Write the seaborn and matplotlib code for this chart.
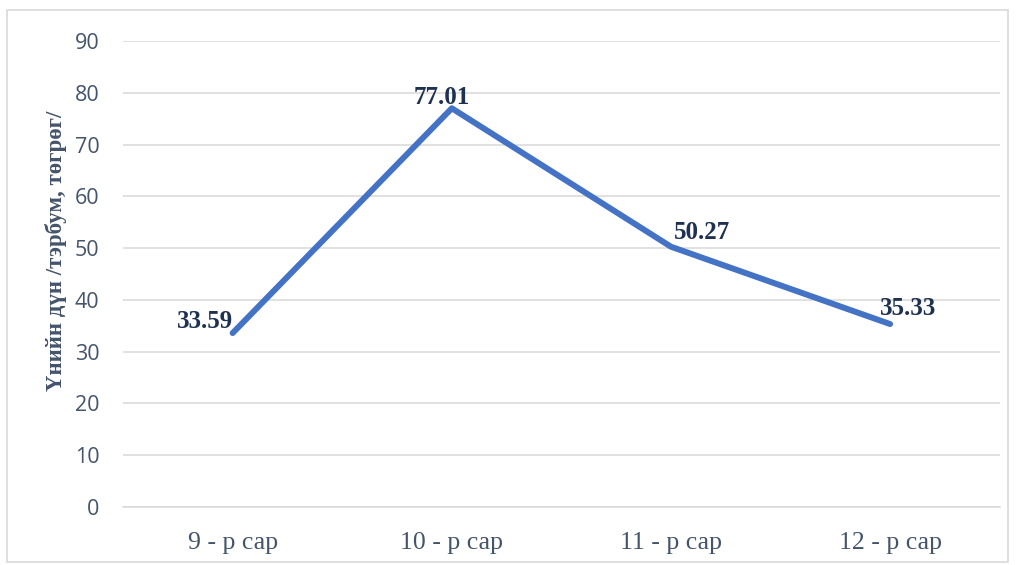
import numpy as np
import pandas as pd
import matplotlib
matplotlib.use("Agg")
import matplotlib.pyplot as plt
import seaborn as sns
from matplotlib.patches import Rectangle

# data
months = ["9 - р сар", "10 - р сар", "11 - р сар", "12 - р сар"]
values = [33.59, 77.01, 50.27, 35.33]
ylabel = "Үнийн дүн /тэрбум, төгрөг/"

# label offsets (points) relative to each data point
label_offsets = [(-20, 8), (-7, 8), (22, 10), (13, 11)]

sns.set_theme(style="white")
plt.rcParams["font.family"] = ["Liberation Serif", "DejaVu Serif"]

df = pd.DataFrame({"month": months, "value": values})

fig = plt.figure(figsize=(10.17, 5.65), dpi=100)
ax = fig.add_axes([0.121, 0.1027, 0.862, 0.8247])

sns.lineplot(data=df, x="month", y="value", ax=ax, color="#4472C4",
             linewidth=4.3, solid_capstyle="round", sort=False)

ax.set_ylim(0, 90)
ax.set_xlim(-0.5, 3.5)
ax.set_yticks(np.arange(0, 91, 10))
ax.yaxis.grid(True, color="#D9D9D9", linewidth=1.1)
ax.set_axisbelow(True)

for s in ["top", "right", "left"]:
    ax.spines[s].set_visible(False)
ax.spines["bottom"].set_color("#D9D9D9")
ax.spines["bottom"].set_linewidth(1.1)

ax.set_xticks(range(len(months)))
ax.set_xticklabels(months, fontsize=18.5, color="#44546A",
                   family=["Liberation Serif"])
ax.set_xticks(np.arange(-0.5, 3.6, 1), minor=True)
ax.tick_params(axis="x", which="major", length=0, pad=18)
ax.tick_params(axis="x", which="minor", length=6, color="#D9D9D9",
               width=1.1, direction="out")
ax.tick_params(axis="y", length=0, pad=17, labelsize=15.5, labelcolor="#44546A")
for t in ax.get_yticklabels():
    t.set_family(["Open Sans", "DejaVu Sans"])

ax.set_xlabel("")
ax.set_ylabel(ylabel, fontsize=16.5, fontweight="bold", color="#44546A")
ax.yaxis.set_label_coords(-0.064, 0.549)

for i, (v, off) in enumerate(zip(values, label_offsets)):
    ax.annotate(f"{v:.2f}", (i, v), xytext=off, textcoords="offset points",
                ha="center", va="center", fontsize=18, fontweight="bold",
                color="#1F3151")

# chart border
fig.patches.append(Rectangle((0.007, 0.005), 0.984, 0.978, transform=fig.transFigure,
                             fill=False, edgecolor="#D9D9D9", linewidth=1.2))

fig.savefig("out.png", dpi=100, facecolor="white")
